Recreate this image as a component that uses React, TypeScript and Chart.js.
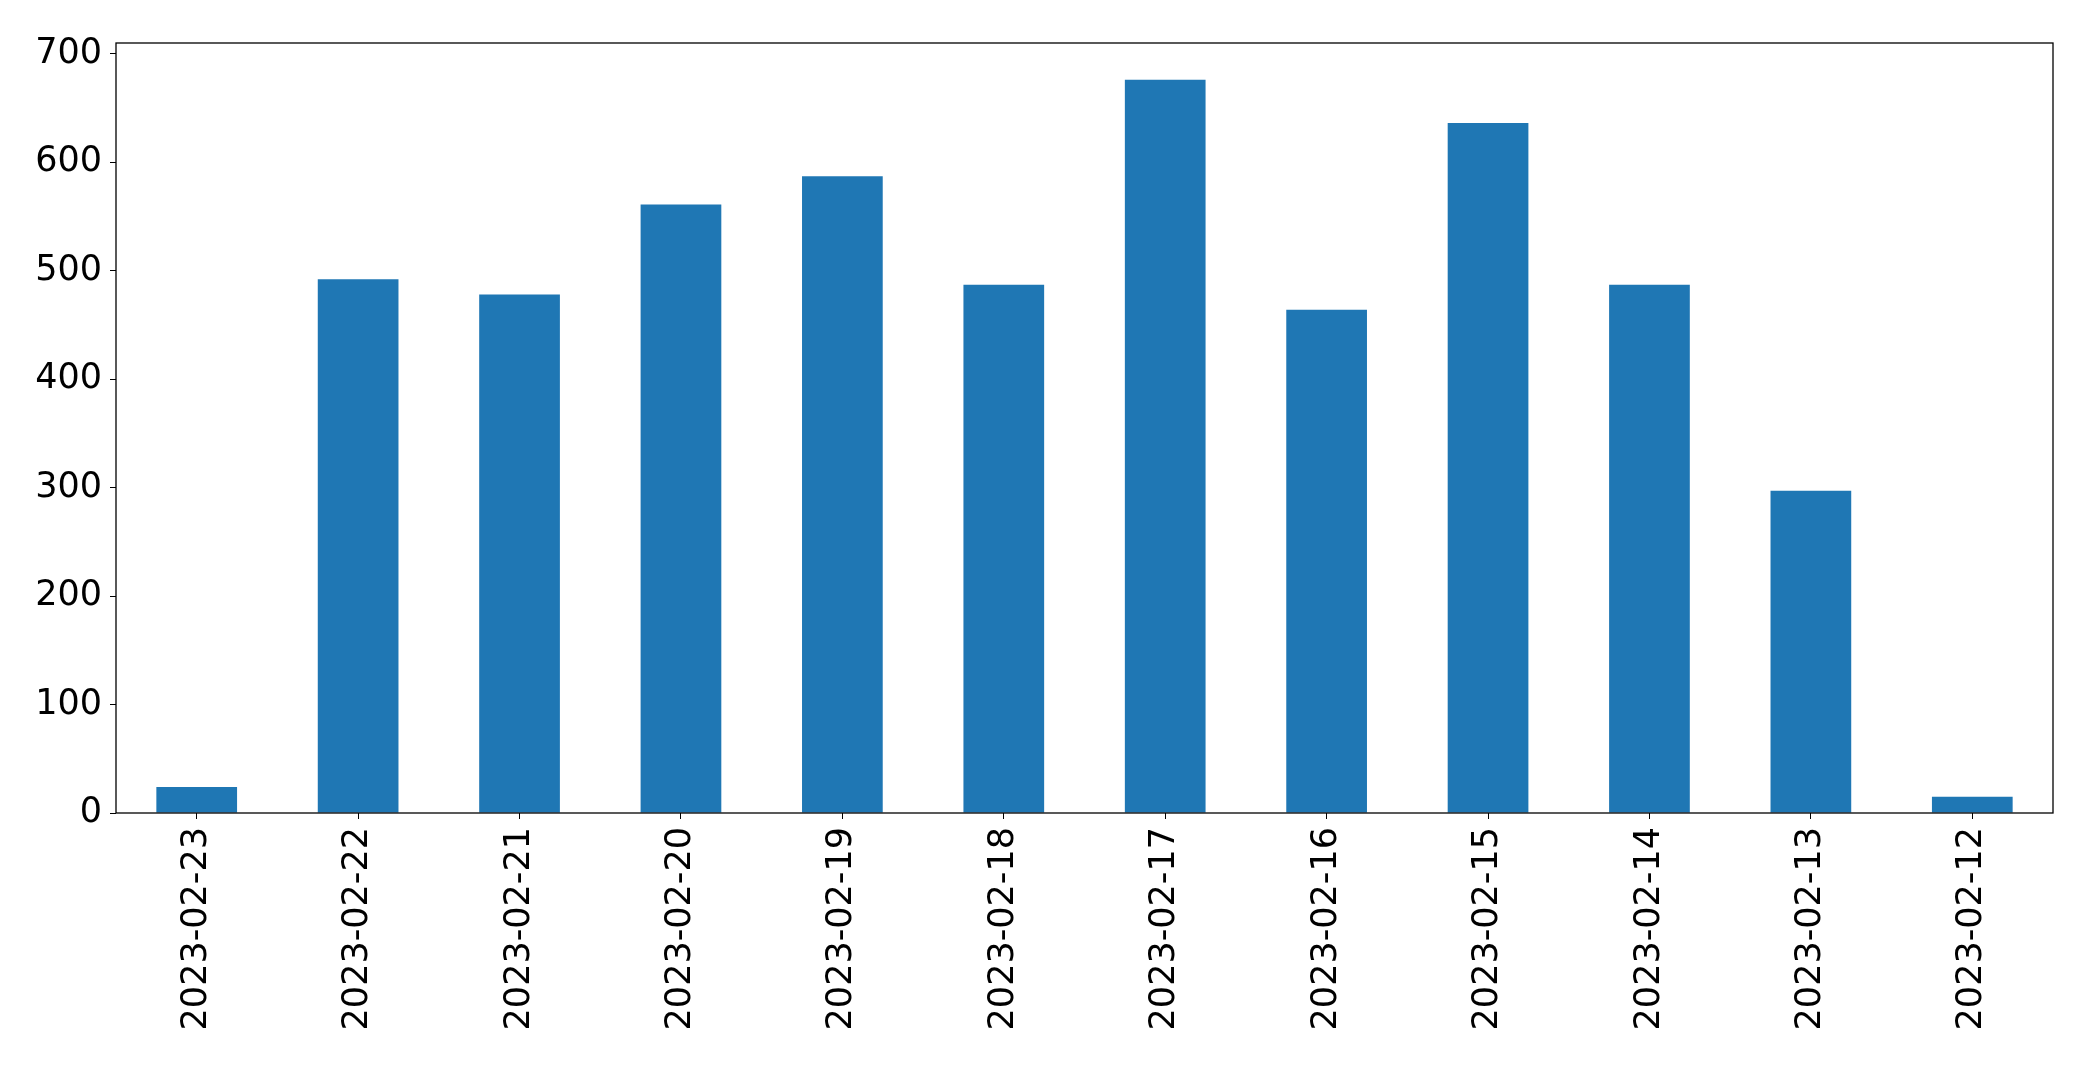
import React, { useEffect, useRef } from "react";
import { Chart, registerables } from "chart.js";

Chart.register(...registerables);

const categories = [
  "2023-02-23", "2023-02-22", "2023-02-21", "2023-02-20", "2023-02-19", "2023-02-18",
  "2023-02-17", "2023-02-16", "2023-02-15", "2023-02-14", "2023-02-13", "2023-02-12",
];
const counts = [24, 492, 478, 561, 587, 487, 676, 464, 636, 487, 297, 15];
const yTicks = [0, 100, 200, 300, 400, 500, 600, 700];

const W = 2093;
const H = 1065;
const FONT = 35;

const frame = {
  id: "frame",
  afterDatasetsDraw(chart: any) {
    const { ctx, chartArea } = chart;
    ctx.save();
    ctx.strokeStyle = "#000";
    ctx.lineWidth = 1.3;
    ctx.strokeRect(chartArea.left, chartArea.top, chartArea.right - chartArea.left, chartArea.bottom - chartArea.top);
    ctx.restore();
  },
};

export default function App() {
  const ref = useRef<HTMLCanvasElement | null>(null);
  useEffect(() => {
    if (!ref.current) return;
    const yMax = Math.max(...counts) * 1.05;
    const chart = new Chart(ref.current, {
      type: "bar",
      data: {
        labels: categories,
        datasets: [
          {
            data: counts,
            backgroundColor: "#1f77b4",
            borderWidth: 0,
            categoryPercentage: 1,
            barPercentage: 0.5,
          },
        ],
      },
      options: {
        responsive: false,
        animation: false,
        devicePixelRatio: 1,
        layout: { padding: { top: 43, right: 40, left: 0, bottom: 0 } },
        plugins: { legend: { display: false }, tooltip: { enabled: false } },
        scales: {
          x: {
            offset: true,
            grid: { display: true, drawOnChartArea: false, drawTicks: true, tickLength: 6, color: "#000", offset: false },
            border: { display: false },
            ticks: {
              color: "#000",
              font: { family: "DejaVu Sans", size: FONT },
              minRotation: 90,
              maxRotation: 90,
              padding: 8,
              autoSkip: false,
            },
            afterFit(scale: any) {
              scale.height = H - 813;
            },
          },
          y: {
            min: 0,
            max: yMax,
            grid: { display: true, drawOnChartArea: false, drawTicks: true, tickLength: 6, color: "#000" },
            border: { display: false },
            ticks: {
              color: "#000",
              font: { family: "DejaVu Sans", size: FONT },
              padding: 8,
              autoSkip: false,
              callback: (v: any) => String(v),
            },
            afterBuildTicks(scale: any) {
              scale.ticks = yTicks.map((v) => ({ value: v }));
            },
            afterFit(scale: any) {
              scale.width = 116;
            },
          },
        },
      },
      plugins: [frame],
    });
    return () => chart.destroy();
  }, []);
  return (
    <div style={{ position: "fixed", left: 0, top: 0, width: W, height: H, background: "#fff" }}>
      <canvas ref={ref} width={W} height={H} style={{ width: W, height: H }} />
    </div>
  );
}
